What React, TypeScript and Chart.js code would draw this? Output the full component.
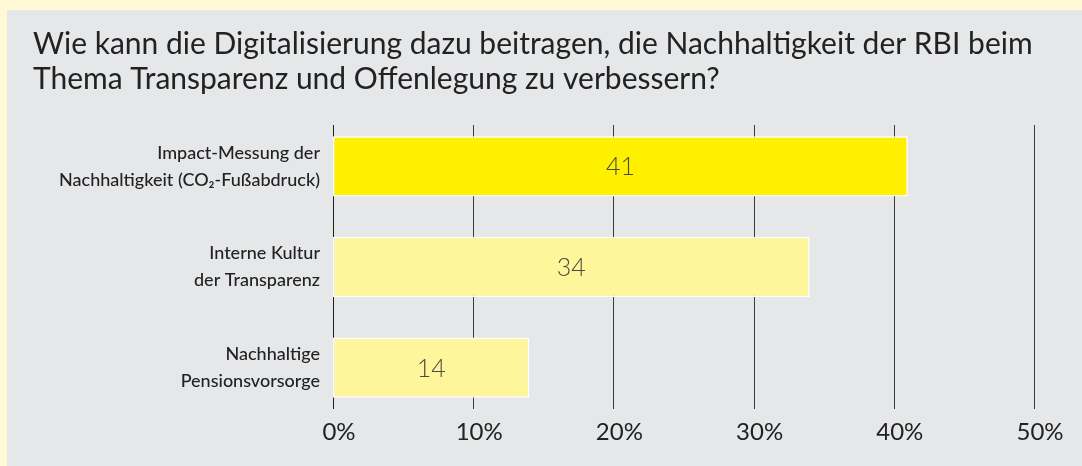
import React, { useEffect, useRef } from "react";
import { Chart, registerables } from "chart.js";

Chart.register(...registerables);

const titleLines = [
  "Wie kann die Digitalisierung dazu beitragen, die Nachhaltigkeit der RBI beim",
  "Thema Transparenz und Offenlegung zu verbessern?",
];
const categories = [
  ["Impact-Messung der", "Nachhaltigkeit (CO₂-Fußabdruck)"],
  ["Interne Kultur", "der Transparenz"],
  ["Nachhaltige", "Pensionsvorsorge"],
];
const values = [41, 34, 14];
const barColors = ["#FFF000", "#FFF59B", "#FFF59B"];
const xMin = 0;
const xMax = 50;
const xStep = 10;

const FONT = "Lato, 'Open Sans', sans-serif";

const gridPlugin = {
  id: "customGrid",
  beforeDatasetsDraw(chart: any) {
    const { ctx, chartArea, scales } = chart;
    const x = scales.x;
    ctx.save();
    x.ticks.forEach((t: any, i: number) => {
      const px = Math.round(x.getPixelForValue(t.value)) + 0.5;
      ctx.beginPath();
      ctx.strokeStyle = i === 0 ? "#1e1e1e" : "#3c3c3c";
      ctx.lineWidth = 1;
      ctx.moveTo(px, chartArea.top + 9);
      ctx.lineTo(px, chartArea.bottom - 9);
      ctx.stroke();
    });
    ctx.restore();
  },
};

const valueLabelPlugin = {
  id: "valueLabels",
  afterDatasetsDraw(chart: any) {
    const { ctx } = chart;
    const meta = chart.getDatasetMeta(0);
    ctx.save();
    ctx.font = `300 25px ${FONT}`;
    ctx.fillStyle = "#4a4a44";
    ctx.textAlign = "center";
    ctx.textBaseline = "middle";
    meta.data.forEach((bar: any, i: number) => {
      const props = bar.getProps(["x", "y", "base"], true);
      const cx = (props.x + props.base) / 2;
      ctx.fillText(String(values[i]), cx, props.y + 1);
    });
    ctx.restore();
  },
};

export default function App() {
  const canvasRef = useRef<HTMLCanvasElement | null>(null);

  useEffect(() => {
    if (!canvasRef.current) return;
    const chart = new Chart(canvasRef.current, {
      type: "bar",
      data: {
        labels: categories,
        datasets: [
          {
            data: values,
            backgroundColor: barColors,
            borderColor: "#ffffff",
            borderWidth: 1.5,
            borderSkipped: false,
            barPercentage: 0.6,
            categoryPercentage: 1,
          },
        ],
      },
      options: {
        indexAxis: "y",
        animation: false,
        responsive: true,
        maintainAspectRatio: false,
        layout: { padding: { left: 26, right: 48, top: 0, bottom: 0 } },
        plugins: {
          legend: { display: false },
          tooltip: { enabled: false },
          title: {
            display: true,
            text: titleLines,
            align: "start",
            color: "#222222",
            font: { family: FONT, size: 30, weight: "normal", lineHeight: 35 / 30 },
            padding: { top: 17, bottom: 19 },
          },
        },
        scales: {
          x: {
            type: "linear",
            min: xMin,
            max: xMax,
            ticks: {
              stepSize: xStep,
              callback: (v: any) => `${v}%`,
              color: "#222222",
              font: { family: FONT, size: 24, weight: "normal" },
              padding: 0,
              labelOffset: 6,
              maxRotation: 0,
            },
            grid: { display: false, drawTicks: false },
            border: { display: false },
            afterFit: (s: any) => {
              s.height = 48;
            },
          },
          y: {
            type: "category",
            ticks: {
              color: "#222222",
              font: { family: FONT, size: 18, weight: "500", lineHeight: 27 / 18 },
              padding: 13,
            },
            grid: { display: false, drawTicks: false },
            border: { display: false },
            afterFit: (s: any) => {
              s.width = 300;
            },
          },
        },
      },
      plugins: [gridPlugin, valueLabelPlugin],
    });
    return () => chart.destroy();
  }, []);

  return (
    <div
      style={{
        position: "absolute",
        left: 0,
        top: 0,
        width: 1082,
        height: 466,
        background: "#FFF9D5",
      }}
    >
      <div
        style={{
          position: "absolute",
          left: 7,
          top: 10,
          width: 1075,
          height: 456,
          background: "#E6E7E9",
        }}
      >
        <canvas ref={canvasRef} />
      </div>
    </div>
  );
}
